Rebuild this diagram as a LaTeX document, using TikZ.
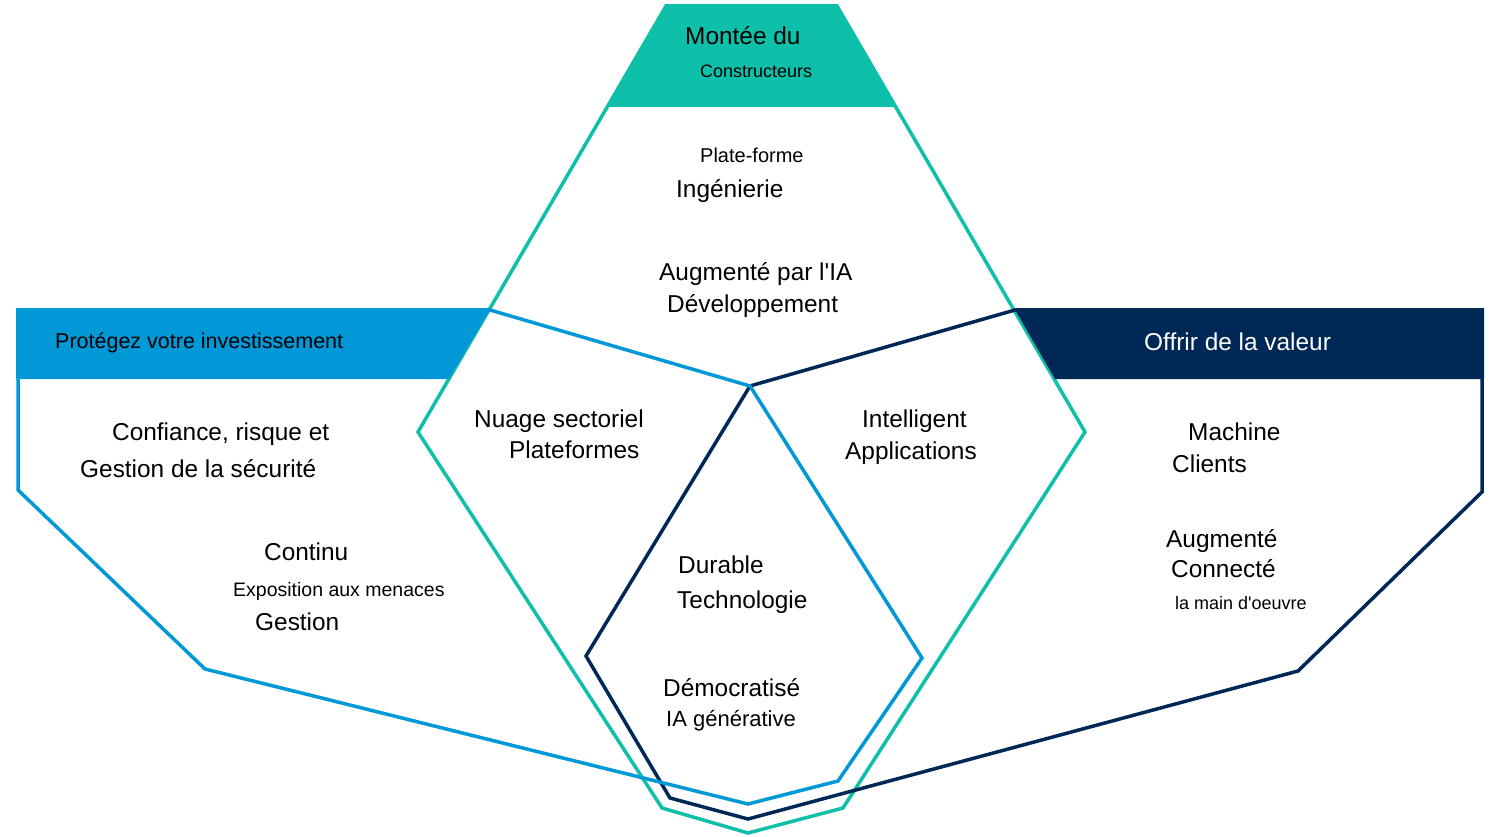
\documentclass[tikz,border=0pt]{standalone}
\usepackage{fontspec}
\setmainfont{Liberation Sans}[Ligatures=TeXOff]
\definecolor{vertia}{RGB}{14,192,170}
\definecolor{bleuia}{RGB}{0,152,214}
\definecolor{marine}{RGB}{0,40,86}
\tikzset{
  contour/.style={line width=3.5pt, line join=miter},
  txt/.style={anchor=west, inner sep=0pt, font=\fontsize{24.4}{28}\selectfont},
  petit/.style={txt, font=\fontsize{18}{21}\selectfont},
}

\begin{document}
\begin{tikzpicture}[x=1pt,y=-1pt]
    \useasboundingbox (0,0) rectangle (1490,837);
    % contours
    \draw[contour, vertia] (666,6) -- (837,6) -- (1085,432) -- (843,808) -- (748,833) -- (662,808) -- (418,432) -- cycle;
    \draw[contour, marine] (1015,310) -- (1482,310) -- (1482,492) -- (1298,671) -- (748,819) -- (670,798) -- (586,656) -- (750,386) -- cycle;
    \draw[contour, bleuia] (18,310) -- (490,310) -- (750,386) -- (922,658) -- (838,781) -- (748,804) -- (205,669) -- (18,490) -- cycle;
    % bandeaux
    \fill[vertia] (667,5) -- (837,5) -- (896,107) -- (606,107) -- cycle;
    \fill[bleuia] (16,308) -- (491,308) -- (449,379) -- (16,379) -- cycle;
    \fill[marine] (1014,308) -- (1484,308) -- (1484,379) -- (1055,379) -- cycle;
    % textes
    \node[txt] (montee) at (685,36) {Montée du};
    \node[petit] (constr) at (700,71) {Constructeurs};
    \node[txt, font=\fontsize{20}{24}\selectfont] (plate) at (700,155) {Plate-forme};
    \node[txt] (inge) at (676,191) {Ingénierie};
    \node[txt] (augia) at (659,274) {Augmenté par l'IA};
    \node[txt] (devel) at (667,306) {Développement};
    \node[txt, font=\fontsize{21.5}{25}\selectfont] (proteg) at (55,343) {Protégez votre investissement};
    \node[txt, white] (offrir) at (1144,342) {Offrir de la valeur};
    \node[txt] (conf) at (112,434) {Confiance, risque et};
    \node[txt] (gestsec) at (80,469) {Gestion de la sécurité};
    \node[txt] (continu) at (264,552) {Continu};
    \node[txt, font=\fontsize{19.5}{23}\selectfont] (expo) at (233,591) {Exposition aux menaces};
    \node[txt] (gestion) at (255,622) {Gestion};
    \node[txt] (nuage) at (474,421) {Nuage sectoriel};
    \node[txt] (platef) at (509,450) {Plateformes};
    \node[txt] (intel) at (862,421) {Intelligent};
    \node[txt] (appli) at (845,453) {Applications};
    \node[txt] (machine) at (1188,432) {Machine};
    \node[txt] (clients) at (1172,464) {Clients};
    \node[txt] (augm) at (1166,541) {Augmenté};
    \node[txt] (conn) at (1171,569) {Connecté};
    \node[petit] (main) at (1175,603) {la main d'oeuvre};
    \node[txt] (durable) at (678,565) {Durable};
    \node[txt] (techno) at (677,602) {Technologie};
    \node[txt] (democ) at (663,688) {Démocratisé};
    \node[txt, font=\fontsize{22}{26}\selectfont] (iagen) at (666,721) {IA générative};
\end{tikzpicture}
\end{document}
